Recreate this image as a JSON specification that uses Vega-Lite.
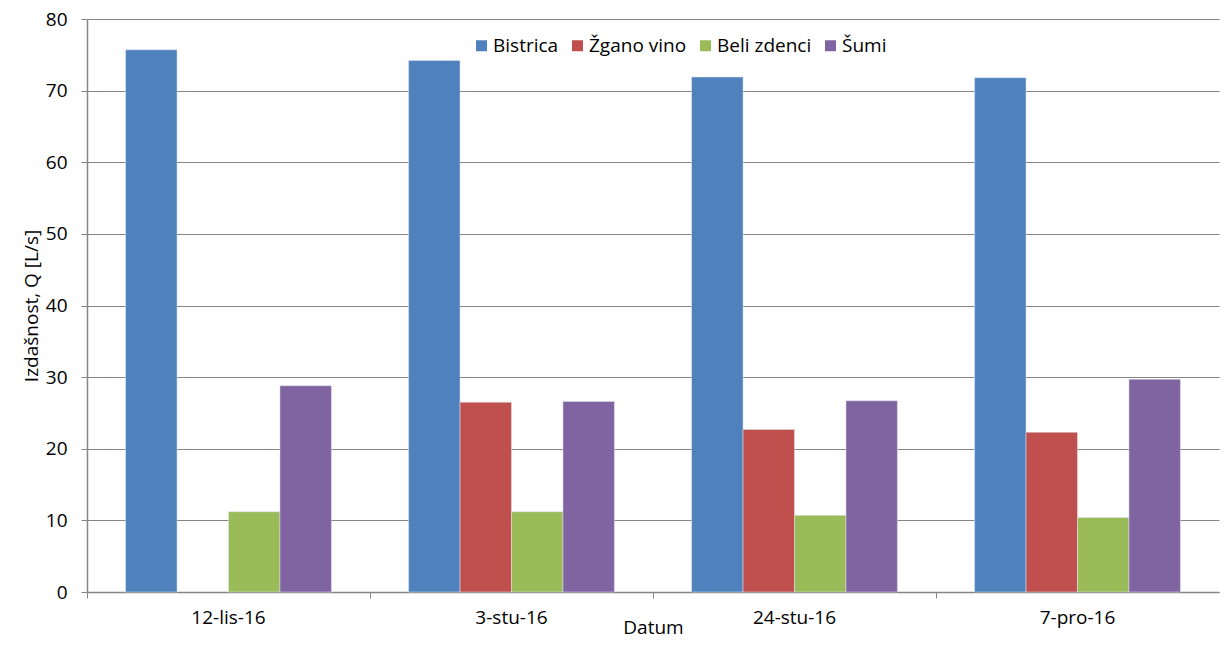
{
  "$schema": "https://vega.github.io/schema/vega-lite/v6.json",
  "autosize": "none",
  "width": 1132,
  "height": 573,
  "padding": {"left": 87, "top": 19, "right": 13, "bottom": 53},
  "background": "white",
  "data": {
    "values": [
      {"datum": "12-lis-16", "serija": "Bistrica", "q": 75.7},
      {"datum": "12-lis-16", "serija": "Beli zdenci", "q": 11.2},
      {"datum": "12-lis-16", "serija": "Šumi", "q": 28.8},
      {"datum": "3-stu-16", "serija": "Bistrica", "q": 74.2},
      {"datum": "3-stu-16", "serija": "Žgano vino", "q": 26.5},
      {"datum": "3-stu-16", "serija": "Beli zdenci", "q": 11.2},
      {"datum": "3-stu-16", "serija": "Šumi", "q": 26.6},
      {"datum": "24-stu-16", "serija": "Bistrica", "q": 71.9},
      {"datum": "24-stu-16", "serija": "Žgano vino", "q": 22.7},
      {"datum": "24-stu-16", "serija": "Beli zdenci", "q": 10.7},
      {"datum": "24-stu-16", "serija": "Šumi", "q": 26.7},
      {"datum": "7-pro-16", "serija": "Bistrica", "q": 71.8},
      {"datum": "7-pro-16", "serija": "Žgano vino", "q": 22.3},
      {"datum": "7-pro-16", "serija": "Beli zdenci", "q": 10.4},
      {"datum": "7-pro-16", "serija": "Šumi", "q": 29.7}
    ]
  },
  "mark": {"type": "bar", "stroke": "#dfe6f0", "strokeWidth": 0.5},
  "encoding": {
    "x": {
      "field": "datum",
      "type": "nominal",
      "sort": ["12-lis-16", "3-stu-16", "24-stu-16", "7-pro-16"],
      "scale": {"paddingInner": 0, "paddingOuter": 0},
      "axis": {
        "title": "Datum",
        "titleFont": "Open Sans",
        "titleFontSize": 19,
        "titleFontWeight": "normal",
        "titleColor": "#000",
        "titlePadding": -9,
        "labelAngle": 0,
        "labelFont": "Open Sans",
        "labelFontSize": 19,
        "labelColor": "#000",
        "labelPadding": 10,
        "bandPosition": 0,
        "domainColor": "#868686",
        "domainWidth": 1.5,
        "tickColor": "#868686",
        "tickSize": 6,
        "grid": false
      }
    },
    "xOffset": {
      "field": "serija",
      "type": "nominal",
      "sort": ["Bistrica", "Žgano vino", "Beli zdenci", "Šumi"],
      "scale": {"domain": ["Bistrica", "Žgano vino", "Beli zdenci", "Šumi"], "paddingInner": 0, "paddingOuter": 0.75}
    },
    "y": {
      "field": "q",
      "type": "quantitative",
      "scale": {"domain": [0, 80]},
      "axis": {
        "title": "Izdašnost, Q [L/s]",
        "titleFont": "Open Sans",
        "titleFontSize": 19,
        "titleFontWeight": "normal",
        "titleColor": "#000",
        "titlePadding": 4,
        "values": [0, 10, 20, 30, 40, 50, 60, 70, 80],
        "labelFont": "Open Sans",
        "labelFontSize": 19,
        "labelColor": "#000",
        "labelPadding": 14,
        "domainColor": "#868686",
        "domainWidth": 1.5,
        "tickColor": "#868686",
        "tickSize": 6,
        "grid": true,
        "gridColor": "#868686",
        "gridWidth": 1
      }
    },
    "color": {
      "field": "serija",
      "type": "nominal",
      "sort": ["Bistrica", "Žgano vino", "Beli zdenci", "Šumi"],
      "scale": {
        "domain": ["Bistrica", "Žgano vino", "Beli zdenci", "Šumi"],
        "range": ["#4F81BD", "#C0504D", "#9BBB59", "#8064A2"]
      },
      "legend": {
        "title": null,
        "orient": "none",
        "direction": "horizontal",
        "legendX": 385,
        "legendY": 17,
        "symbolType": "square",
        "symbolSize": 121,
        "symbolStrokeWidth": 0,
        "labelFont": "Open Sans",
        "labelFontSize": 19,
        "labelColor": "#000",
        "columnPadding": 9,
        "labelOffset": 2
      }
    }
  },
  "config": {
    "view": {"stroke": null}
  }
}
